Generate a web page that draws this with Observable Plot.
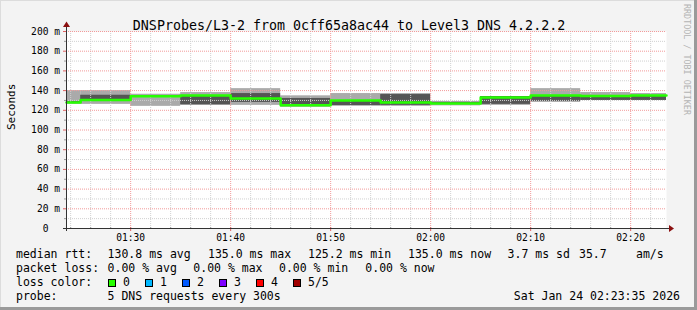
<!DOCTYPE html>
<html><head><meta charset="utf-8">
<script src="https://cdn.jsdelivr.net/npm/d3@7"></script>
<script src="https://cdn.jsdelivr.net/npm/@observablehq/plot@0.6"></script>
<style>
html,body{margin:0;padding:0;background:#f3f3f3;}
#chart svg{display:block;}
</style>
</head><body><div id="chart"></div>
<script>
// ---- data ----
const day = "2026-01-24T";
const startTime = "01:23:35";
const endTime = "02:23:35";
const segStart = ["01:23:35","01:25:00","01:30:00","01:35:00","01:40:00","01:45:00","01:50:00","01:55:00","02:00:00","02:05:00","02:10:00","02:15:00","02:20:00"];
const median   = [128.0, 130.5, 134.2, 135.0, 132.0, 125.2, 130.0, 128.0, 127.0, 133.0, 135.0, 134.5, 135.0];
const outerLo  = [126.0, 126.0, 124.0, 125.0, 125.0, 123.0, 124.5, 124.0, 124.5, 125.0, 128.0, 130.0, 130.0];
const outerHi  = [140.0, 140.0, 136.3, 138.0, 142.0, 134.7, 137.0, 137.0, 129.0, 134.0, 142.0, 138.0, 137.0];
const innerLo  = [127.0, 130.0, 133.5, 125.6, 128.0, 125.5, 124.6, 125.0, 126.0, 126.0, 129.0, 130.0, 130.0];
const innerHi  = [129.0, 135.3, 134.8, 134.0, 137.0, 132.0, 129.5, 136.0, 128.0, 134.0, 135.0, 134.0, 135.0];
const yTicks = [0,20,40,60,80,100,120,140,160,180,200];
const xTickLabels = ["01:30","01:40","01:50","02:00","02:10","02:20"];

const titleText = "DNSProbes/L3-2 from 0cff65a8ac44 to Level3 DNS 4.2.2.2";
const yLabelText = "Seconds";
const rttLabels = ["median rtt:", "130.8 ms avg", "135.0 ms max", "125.2 ms min", "135.0 ms now", "3.7 ms sd", "35.7", "am/s"];
const lossLabels = ["packet loss:", "0.00 % avg", "0.00 % max", "0.00 % min", "0.00 % now"];
const lossColorNames = ["0","1","2","3","4","5/5"];
const lossColors = ["#26ff00","#00b8ff","#0059ff","#7e00ff","#ff0000","#a10000"];
const probeLabels = ["probe:", "5 DNS requests every 300s"];
const dateText = "Sat Jan 24 02:23:35 2026";
const watermark = "RRDTOOL / TOBI OETIKER";

// ---- build ----
const T = s => new Date(day + s + "Z");
const t0 = T(startTime), t1 = T(endTime);
const starts = segStart.map(T);
const rows = starts.map((t, i) => ({
  x1: t, x2: i < starts.length - 1 ? starts[i + 1] : t1,
  med: median[i], oLo: outerLo[i], oHi: outerHi[i], iLo: innerLo[i], iHi: innerHi[i]
}));
const medLine = rows.map(r => ({t: r.x1, v: r.med})).concat([{t: t1, v: median[median.length - 1]}]);

const xMajor = xTickLabels.map(s => T(s + ":00"));
const xMinor = d3.utcMinute.every(2).range(t0, t1).filter(d => d.getUTCMinutes() % 10 !== 0);
const yMinor = d3.range(10, 200, 20);
const yMajorGrid = yTicks.filter(v => v > 0);

const W = 697, H = 310, ML = 66, MR = 31, MT = 31, MB = 82;
const mono = "DejaVu Sans Mono";

const chart = Plot.plot({
  width: W, height: H,
  marginLeft: ML, marginRight: MR, marginTop: MT, marginBottom: MB,
  style: {background: "transparent", fontFamily: mono, fontSize: "9.6px", color: "#000"},
  x: {type: "utc", domain: [t0, t1]},
  y: {domain: [0, 200]},
  marks: [
    Plot.frame({fill: "#ffffff", stroke: null}),
    Plot.rect(rows, {x1: "x1", x2: "x2", y1: "oLo", y2: "oHi", fill: "#aaaaaa"}),
    Plot.rect(rows, {x1: "x1", x2: "x2", y1: "iLo", y2: "iHi", fill: "#555555"}),
    Plot.ruleX(xMinor, {stroke: "#d0d0d0", strokeDasharray: "1,1"}),
    Plot.ruleY(yMinor, {stroke: "#d0d0d0", strokeDasharray: "1,1"}),
    Plot.ruleX(xMajor, {stroke: "#f29a9a", strokeDasharray: "1,1"}),
    Plot.ruleY(yMajorGrid, {stroke: "#f29a9a", strokeDasharray: "1,1"}),
    Plot.line(medLine, {x: "t", y: "v", curve: "step-after", stroke: "#26ff00", strokeWidth: 2.5}),
    // axis tick marks
    Plot.ruleX(xMajor, {y1: 0, y2: 0, insetTop: -1, insetBottom: -3, stroke: "#e06060"}),
    Plot.ruleX(xMinor, {y1: 0, y2: 0, insetTop: -1, insetBottom: -1, stroke: "#999"}),
    Plot.ruleY(yMajorGrid, {x1: t0, x2: t0, insetLeft: -3, stroke: "#e06060"}),
    Plot.ruleY(yMinor, {x1: t0, x2: t0, insetLeft: -2, stroke: "#999"}),
    Plot.axisY({ticks: yTicks, tickFormat: d => d === 0 ? "0\u00a0\u00a0" : d + " m", tickSize: 0, tickPadding: 6.5, label: null}),
    Plot.axisX({ticks: xMajor, tickFormat: d3.utcFormat("%H:%M"), tickSize: 0, tickPadding: 6, label: null}),
    Plot.text([yLabelText], {frameAnchor: "left", rotate: -90, dx: -55, fontSize: 11, fontFamily: mono}),
    Plot.text([titleText], {frameAnchor: "top", dx: -17.5, dy: -11, fontSize: 13.3, fontFamily: mono})
  ]
});
document.getElementById("chart").appendChild(chart);

// ---- decorations: axes, arrows, legend, frame ----
const svg = d3.select(chart);
const g = svg.append("g");
const axisColor = "#333";
g.append("line").attr("x1", 63).attr("x2", 670).attr("y1", 228.5).attr("y2", 228.5).attr("stroke", axisColor);
g.append("line").attr("x1", 66.5).attr("x2", 66.5).attr("y1", 231).attr("y2", 26).attr("stroke", axisColor);
g.append("path").attr("d", "M669,225 L669,232 L674,228.5 Z").attr("fill", "#8b1010");
g.append("path").attr("d", "M63,27 L70,27 L66.5,21.5 Z").attr("fill", "#8b1010");

const lg = svg.append("g").attr("font-family", mono).attr("font-size", 11.5).attr("fill", "#000")
  .attr("text-anchor", "start").style("white-space", "pre");
const rttX = [16, 107.6, 208, 308, 408, 507.6, 579, 636];
rttLabels.forEach((s, i) => lg.append("text").attr("x", rttX[i]).attr("y", 258).text(s));
const lossX = [16, 107.6, 193.3, 279, 365.3];
lossLabels.forEach((s, i) => lg.append("text").attr("x", lossX[i]).attr("y", 272).text(s));
lg.append("text").attr("x", 16).attr("y", 286).text("loss color:");
const swX = [108.5, 145.5, 182.5, 219.5, 256.5, 293.5];
lossColorNames.forEach((s, i) => {
  lg.append("rect").attr("x", swX[i]).attr("y", 279.5).attr("width", 7).attr("height", 7)
    .attr("fill", lossColors[i]).attr("stroke", "#000").attr("stroke-width", 1);
  lg.append("text").attr("x", swX[i] + 14.5).attr("y", 286).text(s);
});
lg.append("text").attr("x", 16).attr("y", 300).text(probeLabels[0]);
lg.append("text").attr("x", 107.6).attr("y", 300).text(probeLabels[1]);
lg.append("text").attr("x", 680).attr("y", 300).attr("text-anchor", "end").text(dateText);

svg.append("text").attr("transform", "translate(684,4) rotate(90)").attr("text-anchor", "start")
  .attr("font-family", mono).attr("font-size", 8.4).attr("fill", "#b4b4b4").text(watermark);

// 3D frame
svg.append("rect").attr("x", 0).attr("y", 0).attr("width", W).attr("height", 1).attr("fill", "#dcdcdc");
svg.append("rect").attr("x", 0).attr("y", 0).attr("width", 1).attr("height", H).attr("fill", "#dcdcdc");
svg.append("rect").attr("x", W - 3).attr("y", 0).attr("width", 3).attr("height", H).attr("fill", "#9a9a9a");
svg.append("rect").attr("x", 0).attr("y", H - 3).attr("width", W).attr("height", 3).attr("fill", "#9a9a9a");
</script>
</body></html>
